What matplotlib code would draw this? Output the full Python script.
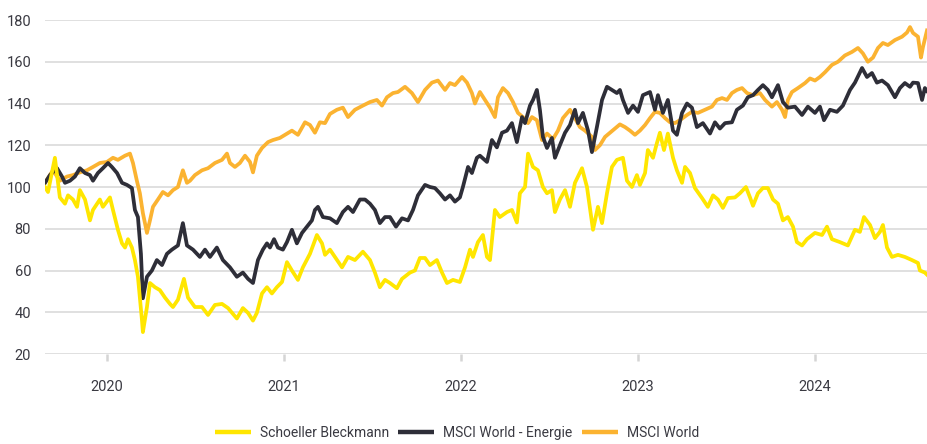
import matplotlib
matplotlib.use("Agg")
import numpy as np
from matplotlib import pyplot as plt
from matplotlib.lines import Line2D

# time axis in decimal years, values indexed (start = 100)
sbo_t = [2019.650, 2019.667, 2019.706, 2019.734, 2019.763, 2019.780, 2019.808, 2019.831, 2019.847, 2019.876,
         2019.904, 2019.921, 2019.960, 2019.977, 2020.017, 2020.034, 2020.062, 2020.085, 2020.102, 2020.119,
         2020.141, 2020.158, 2020.175, 2020.198, 2020.203, 2020.226, 2020.243, 2020.271, 2020.299, 2020.328,
         2020.356, 2020.373, 2020.401, 2020.435, 2020.458, 2020.497, 2020.537, 2020.571, 2020.610, 2020.650,
         2020.684, 2020.734, 2020.768, 2020.797, 2020.825, 2020.847, 2020.876, 2020.904, 2020.932, 2020.960,
         2020.989, 2021.017, 2021.045, 2021.079, 2021.107, 2021.147, 2021.186, 2021.215, 2021.232, 2021.260,
         2021.288, 2021.328, 2021.362, 2021.401, 2021.446, 2021.486, 2021.514, 2021.542, 2021.571, 2021.599,
         2021.638, 2021.667, 2021.712, 2021.740, 2021.768, 2021.797, 2021.825, 2021.864, 2021.893, 2021.921,
         2021.955, 2021.994, 2022.023, 2022.051, 2022.068, 2022.096, 2022.124, 2022.147, 2022.164, 2022.192,
         2022.220, 2022.260, 2022.288, 2022.316, 2022.333, 2022.362, 2022.379, 2022.407, 2022.435, 2022.463,
         2022.486, 2022.514, 2022.531, 2022.559, 2022.588, 2022.616, 2022.644, 2022.684, 2022.712, 2022.746,
         2022.774, 2022.797, 2022.825, 2022.853, 2022.881, 2022.915, 2022.938, 2022.966, 2022.994, 2023.011,
         2023.040, 2023.056, 2023.085, 2023.107, 2023.124, 2023.147, 2023.169, 2023.198, 2023.220, 2023.249,
         2023.266, 2023.294, 2023.322, 2023.362, 2023.395, 2023.424, 2023.452, 2023.480, 2023.508, 2023.548,
         2023.576, 2023.610, 2023.633, 2023.650, 2023.678, 2023.706, 2023.734, 2023.763, 2023.791, 2023.819,
         2023.847, 2023.876, 2023.898, 2023.927, 2023.955, 2024.000, 2024.040, 2024.068, 2024.096, 2024.141,
         2024.186, 2024.226, 2024.254, 2024.277, 2024.311, 2024.339, 2024.367, 2024.384, 2024.407, 2024.435,
         2024.469, 2024.508, 2024.548, 2024.582, 2024.593, 2024.621, 2024.633]
sbo_v = [100, 97.6, 114, 95, 92, 96, 94, 90.5, 98.5, 94,
         84, 89, 94, 90.5, 95, 89, 79.5, 73, 71, 75,
         71, 65, 57, 36, 30.5, 42.5, 54, 52, 50.6, 47,
         44, 42.5, 46, 56, 47, 42.5, 42.5, 38.7, 43.5, 44,
         42, 37, 42, 39.7, 36, 39.7, 49, 52, 49, 52,
         54.5, 64, 60, 55.5, 61.5, 68, 77, 73, 67.5, 70,
         66.5, 61.5, 66.5, 65, 69, 65, 59, 52, 55.5, 54,
         51.5, 56, 59, 60, 66, 66, 62.6, 65, 59, 54,
         55.5, 54.5, 61.5, 70, 66.5, 73.6, 77, 66.5, 65, 89,
         85.6, 88, 89, 83, 97, 100, 116, 109.6, 108, 100,
         97, 98.5, 88, 94, 98.5, 90.5, 102, 109, 100, 79.5,
         90.5, 82.7, 97, 109.6, 113, 114, 103, 100, 105.7, 101,
         106.7, 117.7, 114, 121, 126, 117.7, 125.6, 114, 108, 102,
         109.6, 106.7, 99.5, 94.7, 90.5, 96, 94, 90, 94.7, 95,
         97, 100, 95, 91, 97, 99.5, 99.5, 94, 92, 84,
         85.6, 81, 73.6, 72, 75, 78, 77, 81, 75, 73.6,
         72, 79.5, 78.5, 85.6, 81.8, 75.5, 78.5, 81.8, 71, 66.5,
         67.5, 66.5, 65, 63.6, 60, 59, 58]

energy_t = [2019.650, 2019.678, 2019.718, 2019.746, 2019.763, 2019.791, 2019.819, 2019.847, 2019.876, 2019.904,
            2019.921, 2019.949, 2019.977, 2020.006, 2020.028, 2020.057, 2020.085, 2020.113, 2020.141, 2020.158,
            2020.175, 2020.192, 2020.203, 2020.226, 2020.254, 2020.282, 2020.311, 2020.339, 2020.367, 2020.401,
            2020.429, 2020.452, 2020.486, 2020.525, 2020.554, 2020.582, 2020.621, 2020.655, 2020.695, 2020.734,
            2020.768, 2020.797, 2020.825, 2020.853, 2020.881, 2020.904, 2020.921, 2020.944, 2020.966, 2020.994,
            2021.017, 2021.045, 2021.073, 2021.102, 2021.130, 2021.158, 2021.175, 2021.192, 2021.220, 2021.260,
            2021.299, 2021.333, 2021.362, 2021.390, 2021.429, 2021.458, 2021.486, 2021.514, 2021.542, 2021.571,
            2021.599, 2021.633, 2021.667, 2021.701, 2021.729, 2021.757, 2021.797, 2021.825, 2021.853, 2021.881,
            2021.910, 2021.938, 2021.966, 2021.994, 2022.011, 2022.040, 2022.062, 2022.090, 2022.107, 2022.147,
            2022.175, 2022.203, 2022.232, 2022.260, 2022.288, 2022.316, 2022.345, 2022.362, 2022.390, 2022.407,
            2022.429, 2022.446, 2022.463, 2022.486, 2022.514, 2022.531, 2022.559, 2022.588, 2022.616, 2022.644,
            2022.661, 2022.689, 2022.718, 2022.740, 2022.768, 2022.797, 2022.825, 2022.853, 2022.881, 2022.898,
            2022.915, 2022.944, 2022.972, 2023.000, 2023.028, 2023.068, 2023.096, 2023.113, 2023.141, 2023.169,
            2023.198, 2023.220, 2023.249, 2023.277, 2023.305, 2023.333, 2023.367, 2023.407, 2023.435, 2023.463,
            2023.492, 2023.531, 2023.559, 2023.593, 2023.621, 2023.650, 2023.678, 2023.706, 2023.734, 2023.757,
            2023.791, 2023.819, 2023.847, 2023.887, 2023.927, 2023.960, 2024.000, 2024.028, 2024.051, 2024.085,
            2024.124, 2024.158, 2024.198, 2024.226, 2024.266, 2024.294, 2024.322, 2024.350, 2024.379, 2024.412,
            2024.452, 2024.480, 2024.508, 2024.537, 2024.554, 2024.582, 2024.605, 2024.621, 2024.633]
energy_v = [102, 105.7, 109, 105, 102, 103, 105, 109, 106.7, 105.7,
            103, 106.7, 109, 111.5, 109.6, 106.7, 102, 101, 99.5, 89,
            85.6, 68, 46.7, 57, 60, 65, 62.6, 68, 70, 72,
            82.7, 72, 70, 66.5, 70, 66.5, 71, 65, 61.5, 57,
            59, 56, 54, 65, 70, 73, 71, 75, 71, 70,
            73.6, 79.5, 73, 78, 81, 84, 89, 90.5, 85.6, 85,
            82.7, 88, 90.5, 88, 94, 94, 92, 89, 82.7, 85.6,
            85.6, 81, 85, 84, 89, 96, 101, 100, 99.5, 97,
            94, 96, 93, 95, 100, 109.6, 106.7, 114, 115, 112,
            122.5, 119, 126, 127, 130.6, 121.5, 133.5, 130.6, 139, 141.7,
            146.5, 137, 124, 118.7, 123.5, 114, 120, 126, 129.7, 137,
            130.6, 135.5, 127, 116.7, 128.7, 141.7, 148, 146.5, 145, 146.5,
            141.7, 135.5, 139, 136, 144, 145.5, 137, 144, 135.5, 141.7,
            127, 125, 135.5, 140, 138, 128.7, 130.6, 125.6, 131, 128,
            130.6, 131, 137, 139, 143, 144, 146.5, 148.8, 146.5, 143,
            148.8, 140.7, 138, 138.5, 134.5, 138.5, 135.5, 138.5, 132, 137,
            136, 139, 146.5, 150, 157, 152.7, 154.6, 150, 151, 148.8,
            143, 147.4, 149.8, 148, 150, 149.8, 141.7, 147.4, 146]

world_t = [2019.650, 2019.695, 2019.734, 2019.774, 2019.808, 2019.847, 2019.887, 2019.921, 2019.960, 2020.000,
           2020.034, 2020.062, 2020.102, 2020.130, 2020.147, 2020.169, 2020.186, 2020.203, 2020.226, 2020.243,
           2020.260, 2020.288, 2020.316, 2020.345, 2020.373, 2020.401, 2020.429, 2020.452, 2020.469, 2020.497,
           2020.537, 2020.571, 2020.610, 2020.650, 2020.678, 2020.695, 2020.723, 2020.751, 2020.780, 2020.808,
           2020.825, 2020.847, 2020.876, 2020.910, 2020.938, 2020.977, 2021.006, 2021.045, 2021.079, 2021.119,
           2021.147, 2021.175, 2021.203, 2021.232, 2021.260, 2021.299, 2021.333, 2021.362, 2021.401, 2021.446,
           2021.486, 2021.525, 2021.554, 2021.582, 2021.616, 2021.644, 2021.684, 2021.723, 2021.757, 2021.797,
           2021.836, 2021.870, 2021.910, 2021.938, 2021.966, 2022.006, 2022.034, 2022.062, 2022.079, 2022.107,
           2022.136, 2022.164, 2022.192, 2022.209, 2022.237, 2022.266, 2022.294, 2022.322, 2022.350, 2022.379,
           2022.401, 2022.429, 2022.458, 2022.486, 2022.520, 2022.548, 2022.576, 2022.616, 2022.644, 2022.672,
           2022.701, 2022.740, 2022.757, 2022.785, 2022.814, 2022.842, 2022.870, 2022.898, 2022.927, 2022.955,
           2022.983, 2023.011, 2023.040, 2023.068, 2023.096, 2023.124, 2023.153, 2023.181, 2023.209, 2023.237,
           2023.277, 2023.305, 2023.339, 2023.379, 2023.418, 2023.446, 2023.475, 2023.503, 2023.531, 2023.559,
           2023.588, 2023.616, 2023.650, 2023.689, 2023.718, 2023.757, 2023.785, 2023.814, 2023.831, 2023.847,
           2023.870, 2023.904, 2023.944, 2023.972, 2024.000, 2024.028, 2024.057, 2024.096, 2024.130, 2024.169,
           2024.209, 2024.243, 2024.271, 2024.299, 2024.328, 2024.356, 2024.384, 2024.412, 2024.452, 2024.492,
           2024.520, 2024.537, 2024.554, 2024.582, 2024.599, 2024.610, 2024.633]
world_v = [102, 108, 103, 105, 105.7, 107, 108, 109.6, 111.5, 112,
           114, 113, 115, 116, 111.5, 103, 97, 87.5, 78, 84,
           90.5, 94, 97.6, 96, 98.5, 100, 108, 102, 103, 105.7,
           108, 109, 111.5, 113, 116, 111.5, 109.6, 111.5, 115, 112,
           107, 115, 118.7, 121.5, 122.5, 123.5, 125, 127, 125, 131,
           129.7, 126, 131, 130.6, 135, 137, 138, 133.5, 137, 139,
           140.7, 141.7, 139, 143, 145, 145.5, 148, 145, 140.7, 146.5,
           150, 151, 146.5, 149.8, 148.8, 152.7, 150, 145, 140, 145.5,
           141.7, 138, 133.5, 143, 147.4, 145, 140.7, 135.5, 133.5, 130.6,
           133.5, 132, 122.5, 125.6, 123, 127, 133, 137, 133, 128.7,
           127, 124, 117.7, 120, 124, 126, 128, 130, 128.7, 127,
           125, 127, 129.7, 133, 136, 135.5, 133, 131, 130.6, 132,
           134.5, 136, 135.5, 137, 138.5, 141.7, 142.6, 141.7, 145, 146.5,
           147.4, 145, 144, 145, 141.7, 138.5, 140.7, 137, 133.5, 141.7,
           145.5, 147.4, 149.8, 152, 151, 152.7, 155, 158.5, 160, 163,
           164.7, 166.6, 164, 160, 162, 166.6, 169, 168, 170.4, 172,
           174, 176.6, 173.8, 172, 162, 167, 175]

years = [2020, 2021, 2022, 2023, 2024]
labels = ["Schoeller Bleckmann", "MSCI World - Energie", "MSCI World"]
colors = ["#FFE600", "#2E2E38", "#FBB331"]

plt.rcParams["font.family"] = ["Roboto", "DejaVu Sans"]
text_color = "#3A3A42"

fig = plt.figure(figsize=(9.27, 4.44), dpi=100)
ax = fig.add_axes([45 / 927, 1 - 354 / 444, 882 / 927, 334 / 444])

lw = 2.7
ax.plot(world_t, world_v, color=colors[2], lw=lw, zorder=3, solid_joinstyle="round")
ax.plot(energy_t, energy_v, color=colors[1], lw=lw, zorder=4, solid_joinstyle="round")
ax.plot(sbo_t, sbo_v, color=colors[0], lw=lw, zorder=5, solid_joinstyle="round")

ax.set_xlim(sbo_t[0], sbo_t[-1])
ax.set_ylim(20, 180)
ax.set_yticks(np.arange(20, 181, 20))
ax.set_xticks(years)
ax.set_xticklabels([str(y) for y in years])
ax.grid(axis="y", color="#DDDDDD", lw=1.3, zorder=0)
ax.set_axisbelow(True)
for s in ax.spines.values():
    s.set_visible(False)

ax.tick_params(axis="y", length=0, pad=10, labelsize=10.5, labelcolor=text_color)
ax.tick_params(axis="x", length=5, width=1.8, color="#D5D5D5", pad=14,
               labelsize=10.5, labelcolor=text_color)

handles = [Line2D([], [], color=c, lw=3.2, solid_capstyle="butt") for c in colors]
fig.legend(handles, labels, loc="center", bbox_to_anchor=(457 / 927, 1 - 433 / 444),
           ncol=3, frameon=False, fontsize=10, handlelength=2.6, handletextpad=0.65,
           columnspacing=0.65, labelcolor=text_color)

fig.savefig("out.png", dpi=100)
